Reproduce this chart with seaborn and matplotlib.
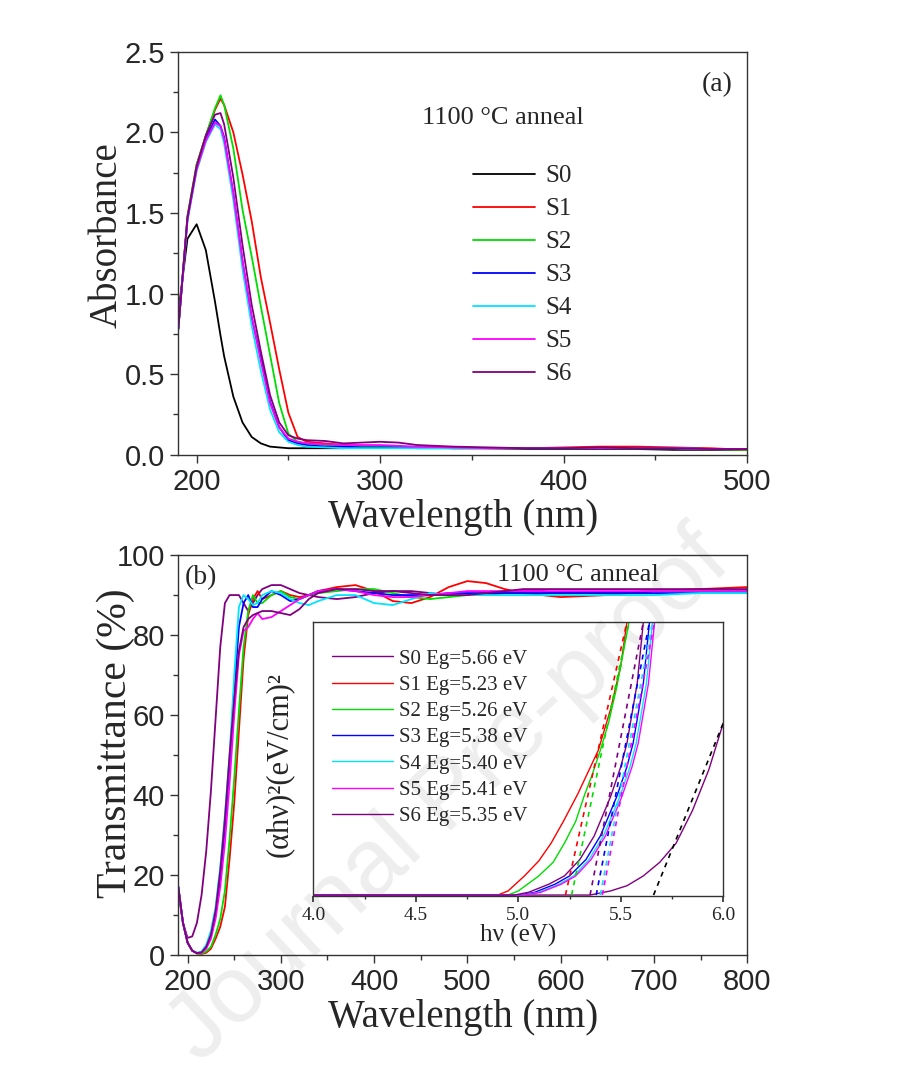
import pandas as pd
import matplotlib
matplotlib.use("Agg")
from matplotlib import pyplot as plt
from matplotlib.ticker import MultipleLocator
from matplotlib.lines import Line2D
import seaborn as sns

samples = ["S0", "S1", "S2", "S3", "S4", "S5", "S6"]
abs_colors = ["#000000", "#ff0000", "#00dd00", "#0000ff", "#00e5ff", "#ff00ff", "#800080"]
tr_colors = ["#800080", "#ff0000", "#00dd00", "#0000ff", "#00e5ff", "#ff00ff", "#800080"]

# (a) absorbance spectra
wl_abs = [190, 195, 200, 205, 210, 213, 215, 220, 225, 230, 235, 240, 245, 250, 255, 260,
          270, 280, 290, 300, 310, 320, 340, 360, 380, 400, 420, 440, 460, 480, 500]
abs_s0 = [0.88, 1.34, 1.43, 1.27, 0.95, 0.74, 0.61, 0.36, 0.20, 0.11, 0.07, 0.05, 0.045, 0.04, 0.04, 0.04,
          0.04, 0.04, 0.045, 0.05, 0.05, 0.045, 0.04, 0.04, 0.035, 0.035, 0.035, 0.035, 0.03, 0.03, 0.03]
abs_s1 = [0.78, 1.48, 1.80, 1.98, 2.14, 2.21, 2.17, 2.00, 1.74, 1.45, 1.10, 0.82, 0.53, 0.26, 0.11, 0.08,
          0.07, 0.06, 0.055, 0.05, 0.05, 0.045, 0.045, 0.04, 0.04, 0.045, 0.05, 0.05, 0.045, 0.04, 0.03]
abs_s2 = [0.78, 1.48, 1.80, 1.98, 2.15, 2.23, 2.17, 1.90, 1.52, 1.23, 0.92, 0.62, 0.32, 0.13, 0.08, 0.07,
          0.06, 0.055, 0.05, 0.05, 0.05, 0.045, 0.04, 0.04, 0.04, 0.04, 0.04, 0.04, 0.04, 0.035, 0.03]
abs_s3 = [0.78, 1.46, 1.78, 1.96, 2.08, 2.04, 1.97, 1.62, 1.20, 0.85, 0.60, 0.33, 0.17, 0.09, 0.07, 0.06,
          0.05, 0.05, 0.045, 0.045, 0.045, 0.04, 0.04, 0.04, 0.04, 0.04, 0.04, 0.04, 0.04, 0.035, 0.035]
abs_s4 = [0.78, 1.45, 1.76, 1.94, 2.05, 2.02, 1.93, 1.58, 1.15, 0.80, 0.52, 0.28, 0.14, 0.08, 0.06, 0.05,
          0.045, 0.04, 0.04, 0.04, 0.04, 0.04, 0.04, 0.04, 0.04, 0.04, 0.04, 0.04, 0.04, 0.035, 0.035]
abs_s5 = [0.78, 1.46, 1.77, 1.95, 2.06, 2.04, 1.96, 1.62, 1.20, 0.86, 0.58, 0.32, 0.17, 0.10, 0.08, 0.07,
          0.065, 0.06, 0.06, 0.06, 0.055, 0.05, 0.045, 0.04, 0.04, 0.04, 0.04, 0.04, 0.04, 0.035, 0.035]
abs_s6 = [0.78, 1.47, 1.79, 1.98, 2.11, 2.12, 2.05, 1.72, 1.30, 0.93, 0.64, 0.37, 0.20, 0.12, 0.10, 0.09,
          0.085, 0.07, 0.075, 0.08, 0.075, 0.06, 0.05, 0.045, 0.04, 0.04, 0.045, 0.04, 0.04, 0.035, 0.035]

# (b) transmittance spectra
wl_tr = [190, 195, 200, 205, 210, 215, 220, 225, 230, 235, 240, 245, 250, 255, 260, 265, 270, 275, 280,
         290, 300, 310, 320, 330, 340, 360, 380, 400, 420, 440, 460, 480, 500, 520, 540, 560, 580, 600,
         650, 700, 750, 800]
tr_s0 = [17, 8, 4.2, 4.6, 8, 15, 26, 41, 59, 77, 88, 90, 90, 90, 88, 86, 88, 90, 91.5,
         92.5, 92.5, 91.5, 90.5, 90, 89.5, 89, 89.5, 90.5, 91, 91, 90.5, 90, 90, 90, 90.5, 91, 91, 90.5,
         90.5, 91, 91, 91]
tr_s1 = [16, 8, 3, 1, 0.3, 0.2, 0.5, 1.5, 4, 7, 12, 24, 38, 56, 74, 85, 89, 91, 89,
         90, 91, 90, 89.5, 90, 91, 92, 92.5, 91, 88.5, 88, 89.5, 92, 93.5, 93, 91.5, 90.5, 90, 89.5,
         90, 91, 91.5, 92]
tr_s2 = [16, 8, 3, 1, 0.3, 0.3, 0.8, 2, 5, 9, 16, 29, 44, 61, 77, 86, 90, 88, 88,
         90, 91, 89.5, 89, 90, 90.5, 91, 91.5, 91.5, 90.5, 89.5, 89, 89.5, 90, 90.5, 90.5, 90.5, 90.5, 90.5,
         90.5, 91, 91, 91]
tr_s3 = [17, 8, 3, 1, 0.4, 0.6, 2, 5, 10, 19, 32, 48, 66, 82, 88, 90, 87, 87, 89,
         91, 90, 88.5, 89, 90, 91, 91.5, 91, 90.5, 90, 90, 90, 90.5, 90.5, 90.5, 90.5, 90.5, 90.5, 90.5,
         90.5, 90.5, 90.5, 90.5]
tr_s4 = [17, 8, 3, 1, 0.5, 0.8, 2.5, 6, 12, 22, 35, 50, 70, 87, 90, 89, 87.5, 88, 90,
         91, 90.5, 89, 88, 87.5, 88.5, 90, 90, 88, 87.5, 89, 90.5, 90, 90, 90, 90, 90, 90, 90,
         90, 90, 90.5, 90.5]
tr_s5 = [17, 8, 3, 1, 0.4, 0.5, 1.5, 4, 9, 17, 28, 43, 60, 75, 81, 82, 84, 85.5, 84,
         84.5, 86, 87.5, 89, 90, 91, 91.5, 91, 90, 89.5, 89.5, 90, 90.5, 91, 91, 91, 91, 91, 91,
         91, 91, 91, 91]
tr_s6 = [17, 8, 3, 1, 0.4, 0.6, 2, 5, 11, 21, 34, 50, 64, 76, 82, 84, 85, 85.5, 86,
         86, 85.5, 85, 86.5, 89, 90.5, 91.5, 91.5, 91, 91, 90.5, 90, 90, 90, 90.5, 91, 91.5, 91.5, 91.5,
         91.5, 91.5, 91.5, 91.5]

# inset: Tauc plot (alpha*h*nu)^2 vs h*nu, arbitrary units
hv_s0 = [4.0, 5.35, 5.45, 5.53, 5.61, 5.69, 5.77, 5.85, 5.93, 6.0]
ahv_s0 = [0, 0, 1.5, 3.4, 7, 12, 19, 31, 46, 63]
hv_s1 = [4.0, 4.90, 4.95, 5.03, 5.10, 5.16, 5.22, 5.29, 5.34, 5.39, 5.45, 5.50, 5.53]
ahv_s1 = [0, 0, 1.5, 7, 12.5, 19, 27, 37, 45, 53, 68, 84, 100]
hv_s2 = [4.0, 4.95, 5.00, 5.10, 5.17, 5.225, 5.28, 5.32, 5.36, 5.40, 5.44, 5.48, 5.54]
ahv_s2 = [0, 0, 1.5, 7, 12, 19, 27, 36, 44, 53, 63, 76, 100]
hv_s3 = [4.0, 5.00, 5.08, 5.18, 5.25, 5.33, 5.40, 5.48, 5.53, 5.56, 5.61, 5.64]
ahv_s3 = [0, 0, 1, 4, 7, 13, 21.6, 36, 47, 55.6, 77.5, 100]
hv_s4 = [4.0, 5.02, 5.10, 5.20, 5.27, 5.345, 5.415, 5.495, 5.545, 5.575, 5.625, 5.655]
ahv_s4 = [0, 0, 1, 4, 7, 13, 21.6, 36, 47, 55.6, 77.5, 100]
hv_s5 = [4.0, 5.03, 5.11, 5.21, 5.28, 5.355, 5.425, 5.505, 5.555, 5.585, 5.635, 5.665]
ahv_s5 = [0, 0, 1, 4, 7, 13, 21.6, 36, 47, 55.6, 77.5, 100]
hv_s6 = [4.0, 4.98, 5.05, 5.15, 5.225, 5.30, 5.37, 5.45, 5.50, 5.53, 5.58, 5.61]
ahv_s6 = [0, 0, 1, 4, 7, 13, 21.6, 36, 47, 55.6, 77.5, 100]
eg_values = [5.66, 5.23, 5.26, 5.38, 5.40, 5.41, 5.35]
fit_end_hv = [6.0, 5.53, 5.54, 5.64, 5.655, 5.665, 5.61]
fit_end_y = [63, 100, 100, 100, 100, 100, 100]

sns.set_theme(style="ticks")
plt.rcParams["font.family"] = ["Liberation Serif", "DejaVu Serif"]
plt.rcParams["axes.linewidth"] = 1.0
plt.rcParams["axes.edgecolor"] = "#333333"

abs_series = [abs_s0, abs_s1, abs_s2, abs_s3, abs_s4, abs_s5, abs_s6]
df_abs = pd.concat([pd.DataFrame({"wl": wl_abs, "A": v, "sample": s})
                    for s, v in zip(samples, abs_series)])
tr_series = [tr_s0, tr_s1, tr_s2, tr_s3, tr_s4, tr_s5, tr_s6]
df_tr = pd.concat([pd.DataFrame({"wl": wl_tr, "T": v, "sample": s})
                   for s, v in zip(samples, tr_series)])
hv_series = [hv_s0, hv_s1, hv_s2, hv_s3, hv_s4, hv_s5, hv_s6]
ahv_series = [ahv_s0, ahv_s1, ahv_s2, ahv_s3, ahv_s4, ahv_s5, ahv_s6]
df_tauc = pd.concat([pd.DataFrame({"hv": h, "y": a, "sample": s})
                     for s, h, a in zip(samples, hv_series, ahv_series)])

fig = plt.figure(figsize=(9.19, 10.8), dpi=100)
# pre-proof watermark, faint, behind the plots
fig.text(0.49, 0.262, "Journal Pre-proof", rotation=43, fontsize=68, color="#eeeeee",
         ha="center", va="center", family="Liberation Sans", zorder=-1)

ax1 = fig.add_axes([0.194, 0.579, 0.619, 0.373])
ax2 = fig.add_axes([0.194, 0.116, 0.619, 0.370])
axi = fig.add_axes([0.341, 0.170, 0.446, 0.254])
for ax in (ax1, ax2, axi):
    ax.patch.set_alpha(0)

sans = "Liberation Sans"

# ---- panel (a)
sns.lineplot(data=df_abs, x="wl", y="A", hue="sample", palette=dict(zip(samples, abs_colors)),
             estimator=None, lw=1.3, legend=False, ax=ax1)
ax1.set_xlim(190, 500)
ax1.set_ylim(0, 2.5)
ax1.xaxis.set_major_locator(MultipleLocator(100))
ax1.xaxis.set_minor_locator(MultipleLocator(50))
ax1.yaxis.set_major_locator(MultipleLocator(0.5))
ax1.yaxis.set_minor_locator(MultipleLocator(0.25))
ax1.yaxis.set_major_formatter(plt.FormatStrFormatter("%.1f"))
ax1.set_xlabel("Wavelength (nm)", fontsize=28, labelpad=2)
ax1.set_ylabel("Absorbance", fontsize=28)
ax1.yaxis.set_label_coords(-0.092, 0.546)
ax1.text(0.947, 0.918, "(a)", transform=ax1.transAxes, fontsize=20, ha="center", va="center")
ax1.text(0.571, 0.836, "1100 °C anneal", transform=ax1.transAxes, fontsize=19, ha="center", va="center")
handles = [Line2D([], [], color=c, lw=1.3) for c in abs_colors]
ax1.legend(handles, samples, loc="upper left", bbox_to_anchor=(0.478, 0.775), frameon=False,
           fontsize=18, handlelength=2.5, handletextpad=0.4, labelspacing=0.42)

# ---- panel (b)
sns.lineplot(data=df_tr, x="wl", y="T", hue="sample", palette=dict(zip(samples, tr_colors)),
             estimator=None, lw=1.3, legend=False, ax=ax2)
ax2.set_xlim(190, 800)
ax2.set_ylim(0, 100)
ax2.xaxis.set_major_locator(MultipleLocator(100))
ax2.xaxis.set_minor_locator(MultipleLocator(50))
ax2.yaxis.set_major_locator(MultipleLocator(20))
ax2.yaxis.set_minor_locator(MultipleLocator(10))
ax2.set_xlabel("Wavelength (nm)", fontsize=28, labelpad=2)
ax2.set_ylabel("Transmittance (%)", fontsize=30)
ax2.yaxis.set_label_coords(-0.076, 0.53)
ax2.text(0.039, 0.943, "(b)", transform=ax2.transAxes, fontsize=20, ha="center", va="center")
ax2.text(0.703, 0.95, "1100 °C anneal", transform=ax2.transAxes, fontsize=19, ha="center", va="center")

for ax in (ax1, ax2):
    ax.tick_params(which="both", direction="out", width=1.0, labelsize=21, color="#333333")
    ax.tick_params(which="major", length=6)
    ax.tick_params(which="minor", length=3.5)
    for lab in ax.get_xticklabels() + ax.get_yticklabels():
        lab.set_fontfamily(sans)

# ---- inset (Tauc plot)
sns.lineplot(data=df_tauc, x="hv", y="y", hue="sample", palette=dict(zip(samples, tr_colors)),
             estimator=None, sort=False, lw=1.0, legend=False, ax=axi)
for eg, xe, ye, c in zip(eg_values, fit_end_hv, fit_end_y, ["#000000"] + tr_colors[1:]):
    sns.lineplot(x=[eg, xe], y=[0, ye], color=c, lw=1.2, linestyle=(0, (3, 3)), ax=axi)
axi.set_xlim(4.0, 6.0)
axi.set_ylim(-0.5, 100)
axi.xaxis.set_major_locator(MultipleLocator(0.5))
axi.xaxis.set_minor_locator(MultipleLocator(0.25))
axi.xaxis.set_major_formatter(plt.FormatStrFormatter("%.1f"))
axi.set_yticks([])
axi.tick_params(axis="x", which="both", direction="out", labelsize=14, color="#333333")
axi.tick_params(axis="x", which="major", length=4)
axi.tick_params(axis="x", which="minor", length=2.5)
axi.set_xlabel("hν (eV)", fontsize=18, labelpad=0)
axi.set_ylabel("(αhν)²(eV/cm)²", fontsize=22)
axi.yaxis.set_label_coords(-0.048, 0.48)
inset_labels = [f"{s} Eg={eg:.2f} eV" for s, eg in zip(samples, eg_values)]
handles_i = [Line2D([], [], color=c, lw=1.0) for c in tr_colors]
axi.legend(handles_i, inset_labels, loc="upper left", bbox_to_anchor=(0.0, 0.97), frameon=False,
           fontsize=15, handlelength=2.9, handletextpad=0.3, labelspacing=0.32)

fig.savefig("out.png", dpi=100)
